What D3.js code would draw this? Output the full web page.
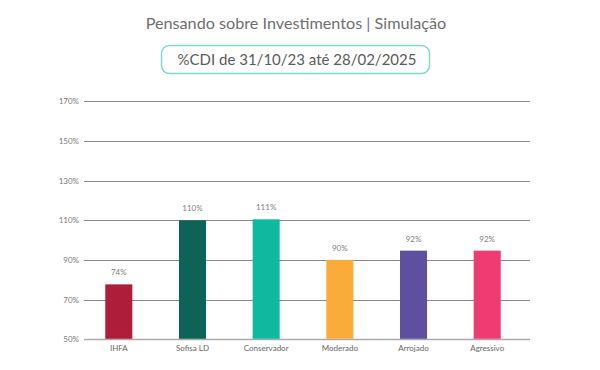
<!DOCTYPE html>
<html><head><meta charset="utf-8">
<script src="https://cdn.jsdelivr.net/npm/d3@7"></script>
<style>body{margin:0;background:#fff}svg{display:block}</style>
</head><body>
<svg id="c" width="600" height="370"></svg>
<script>
const categories = ["IHFA","Sofisa LD","Conservador","Moderado","Arrojado","Agressivo"];
const values = [77.7, 110, 110.5, 90, 94.7, 94.7];
const valueLabels = ["74%","110%","111%","90%","92%","92%"];
const colors = ["#ae1e3b","#0e6357","#0eb99f","#fbab3a","#5e509f","#ee3b72"];
const ticks = [50,70,90,110,130,150,170];
const title = "Pensando sobre Investimentos | Simulação";
const subtitle = "%CDI de 31/10/23 até 28/02/2025";

const svg = d3.select("#c");
const font = "Lato, 'Open Sans', sans-serif";
const x = d3.scaleBand().domain(categories).range([82,524]).paddingInner(0.633).paddingOuter(0.316);
const y = d3.scaleLinear().domain([50,170]).range([339.3,101.3]);

svg.append("text").attr("x",296).attr("y",29).attr("text-anchor","middle")
  .attr("font-family",font).attr("font-size",16.2).attr("fill","#6e6e6e").text(title);
svg.append("rect").attr("x",161.5).attr("y",45.5).attr("width",268).attr("height",28).attr("rx",8)
  .attr("fill","#fff").attr("stroke","#7fd9c9").attr("stroke-width",1.5);
svg.append("text").attr("x",297).attr("y",65).attr("text-anchor","middle")
  .attr("font-family",font).attr("font-size",15).attr("fill","#5a5a5a").text(subtitle);

// grid
const g = svg.append("g");
g.selectAll("line.grid").data(ticks).join("line").attr("class","grid")
  .attr("x1",84).attr("x2",530).attr("y1",d=>Math.round(y(d))+0.5).attr("y2",d=>Math.round(y(d))+0.5)
  .attr("stroke",d=>d===50?"#aaa":"#8a8a8a").attr("stroke-width",d=>d===50?1.5:1);
const yAxis = d3.axisLeft(y).tickValues(ticks).tickFormat(d=>d+"%").tickSize(0).tickPadding(0);
const ya = svg.append("g").attr("transform","translate(79,0)").call(yAxis);
ya.select(".domain").remove();
ya.selectAll("text").attr("font-family",font).attr("font-size",8).attr("fill","#777");

// bars
svg.selectAll("rect.bar").data(values).join("rect").attr("class","bar")
  .attr("x",(d,i)=>x(categories[i])).attr("width",x.bandwidth())
  .attr("y",d=>y(d)).attr("height",d=>y(50)-y(d)-0.5)
  .attr("fill",(d,i)=>colors[i]);
svg.selectAll("text.vl").data(values).join("text").attr("class","vl")
  .attr("x",(d,i)=>x(categories[i])+x.bandwidth()/2).attr("y",d=>y(d)-9)
  .attr("text-anchor","middle").attr("font-family",font).attr("font-size",8).attr("fill","#808080")
  .text((d,i)=>valueLabels[i]);

const xAxis = d3.axisBottom(x).tickSize(0).tickPadding(0);
const xa = svg.append("g").attr("transform","translate(0,345)").call(xAxis);
xa.select(".domain").remove();
xa.selectAll("text").attr("font-family",font).attr("font-size",8).attr("fill","#666");
</script>
</body></html>
